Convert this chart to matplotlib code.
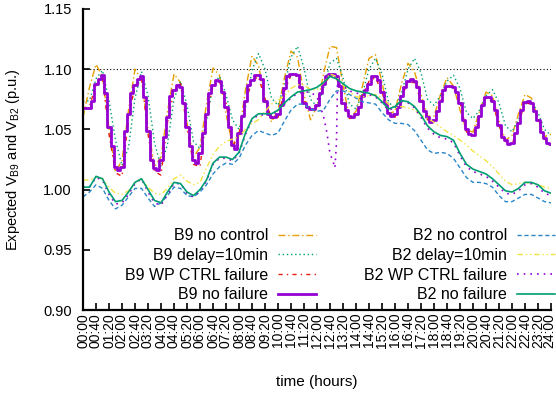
import numpy as np
import matplotlib
matplotlib.use('Agg')
import matplotlib.pyplot as plt
import matplotlib.transforms as mtransforms

# time axis: one sample every 20 minutes, in hours
hours = [k / 3.0 for k in range(73)]
# the B9 "no failure" staircase is read every 10 minutes
hours_10min = [k / 6.0 for k in range(145)]

b9_no_control = [
    1.060, 1.085, 1.104, 1.094, 1.051, 1.015, 1.024, 1.066, 1.100, 1.091,
    1.051, 1.019, 1.027, 1.065, 1.096, 1.089, 1.055, 1.027, 1.035, 1.071,
    1.101, 1.095, 1.063, 1.037, 1.046, 1.083, 1.111, 1.103, 1.076, 1.056,
    1.066, 1.093, 1.115, 1.110, 1.079, 1.058, 1.069, 1.096, 1.119, 1.118,
    1.087, 1.059, 1.065, 1.086, 1.109, 1.112, 1.089, 1.063, 1.065, 1.088,
    1.105, 1.098, 1.079, 1.061, 1.061, 1.079, 1.093, 1.086, 1.066, 1.049,
    1.048, 1.065, 1.081, 1.078, 1.057, 1.041, 1.045, 1.063, 1.079, 1.076,
    1.059, 1.044, 1.046]

b9_delay = [
    1.073, 1.074, 1.092, 1.099, 1.074, 1.041, 1.020, 1.035, 1.076, 1.098,
    1.078, 1.039, 1.019, 1.038, 1.075, 1.090, 1.070, 1.040, 1.034, 1.057,
    1.087, 1.094, 1.079, 1.058, 1.050, 1.068, 1.099, 1.113, 1.100, 1.076,
    1.070, 1.087, 1.110, 1.119, 1.101, 1.075, 1.069, 1.084, 1.105, 1.109,
    1.093, 1.071, 1.067, 1.080, 1.100, 1.109, 1.096, 1.073, 1.067, 1.080,
    1.100, 1.109, 1.097, 1.075, 1.070, 1.078, 1.090, 1.095, 1.084, 1.064,
    1.059, 1.066, 1.078, 1.083, 1.072, 1.053, 1.048, 1.058, 1.071, 1.073,
    1.064, 1.050, 1.045]

b9_wp_failure = [
    1.067, 1.069, 1.087, 1.094, 1.046, 1.014, 1.011, 1.060, 1.086, 1.094,
    1.046, 1.015, 1.012, 1.056, 1.082, 1.088, 1.051, 1.021, 1.019, 1.061,
    1.086, 1.090, 1.073, 1.035, 1.046, 1.073, 1.090, 1.094, 1.075, 1.059,
    1.060, 1.082, 1.095, 1.094, 1.074, 1.066, 1.067, 1.086, 1.095, 1.093,
    1.074, 1.059, 1.061, 1.078, 1.090, 1.093, 1.081, 1.064, 1.060, 1.077,
    1.089, 1.089, 1.074, 1.058, 1.056, 1.073, 1.086, 1.085, 1.073, 1.048,
    1.044, 1.060, 1.076, 1.073, 1.053, 1.040, 1.037, 1.055, 1.072, 1.071,
    1.059, 1.042, 1.037]

b9_no_failure = [
    1.068, 1.068, 1.068, 1.074, 1.088, 1.092, 1.095, 1.080, 1.052, 1.036,
    1.019, 1.016, 1.019, 1.049, 1.063, 1.080, 1.087, 1.092, 1.094, 1.077,
    1.049, 1.025, 1.018, 1.016, 1.025, 1.044, 1.060, 1.078, 1.083, 1.087,
    1.085, 1.072, 1.052, 1.036, 1.025, 1.022, 1.030, 1.047, 1.063, 1.080,
    1.087, 1.091, 1.090, 1.081, 1.069, 1.052, 1.037, 1.034, 1.047,
    1.061, 1.074, 1.087, 1.091, 1.095, 1.095, 1.092, 1.074, 1.063, 1.060,
    1.060, 1.063, 1.070, 1.084, 1.094, 1.096, 1.096, 1.095, 1.085, 1.072,
    1.069, 1.067, 1.067, 1.070, 1.080, 1.088, 1.094, 1.096, 1.096, 1.094,
    1.086, 1.072, 1.066, 1.061, 1.060, 1.063, 1.069, 1.078, 1.083, 1.088,
    1.094, 1.094, 1.091, 1.081, 1.072, 1.064, 1.061, 1.063,
    1.069, 1.078, 1.085, 1.090, 1.092, 1.090, 1.085, 1.074, 1.065, 1.060,
    1.056, 1.058, 1.065, 1.074, 1.083, 1.086, 1.086, 1.085, 1.081, 1.072,
    1.058, 1.050, 1.046, 1.045, 1.052, 1.061, 1.070, 1.077, 1.077, 1.074,
    1.066, 1.054, 1.044, 1.041, 1.038, 1.039, 1.047, 1.055, 1.066, 1.073,
    1.074, 1.072, 1.065, 1.058, 1.048, 1.043, 1.039, 1.038]

b2_no_control = [
    0.994, 0.998, 1.004, 1.001, 0.991, 0.984, 0.987, 0.994, 1.001, 1.001,
    0.993, 0.986, 0.989, 0.995, 1.002, 1.001, 0.995, 0.994, 0.998, 1.004,
    1.013, 1.019, 1.022, 1.021, 1.026, 1.037, 1.045, 1.049, 1.047, 1.045,
    1.047, 1.057, 1.066, 1.071, 1.071, 1.067, 1.065, 1.066, 1.075, 1.082,
    1.082, 1.079, 1.076, 1.073, 1.072, 1.071, 1.064, 1.058, 1.055, 1.055,
    1.054, 1.049, 1.041, 1.033, 1.030, 1.031, 1.030, 1.026, 1.018, 1.010,
    1.006, 1.006, 1.005, 1.002, 0.995, 0.990, 0.990, 0.993, 0.996, 0.996,
    0.993, 0.990, 0.989]

b2_delay = [
    1.008, 1.008, 1.010, 1.009, 1.002, 0.997, 0.996, 0.999, 1.006, 1.009,
    1.002, 0.997, 0.996, 1.001, 1.009, 1.012, 1.007, 1.004, 1.006, 1.018,
    1.029, 1.036, 1.040, 1.042, 1.044, 1.050, 1.055, 1.058, 1.065, 1.071,
    1.074, 1.078, 1.084, 1.087, 1.087, 1.083, 1.083, 1.089, 1.096, 1.094,
    1.087, 1.081, 1.077, 1.077, 1.078, 1.079, 1.076, 1.071, 1.068, 1.069,
    1.068, 1.066, 1.062, 1.059, 1.056, 1.052, 1.048, 1.045, 1.041, 1.037,
    1.032, 1.028, 1.024, 1.019, 1.013, 1.007, 1.004, 1.005, 1.006, 1.005,
    1.004, 1.002, 1.001]

b2_wp_failure = [
    1.002, 1.002, 1.010, 1.008, 0.996, 0.988, 0.989, 0.996, 1.005, 1.009,
    0.998, 0.989, 0.987, 0.996, 1.005, 1.005, 0.997, 0.994, 0.999, 1.007,
    1.021, 1.026, 1.026, 1.024, 1.030, 1.046, 1.058, 1.062, 1.062, 1.062,
    1.065, 1.071, 1.076, 1.080, 1.081, 1.081, 1.077, 1.061, 1.030, 1.040,
    1.086, 1.082, 1.080, 1.080, 1.079, 1.077, 1.072, 1.066, 1.068, 1.073,
    1.072, 1.068, 1.060, 1.051, 1.046, 1.043, 1.042, 1.039, 1.028, 1.019,
    1.015, 1.013, 1.011, 1.007, 1.002, 0.997, 0.996, 0.999, 1.004, 1.005,
    1.002, 0.997, 0.995]
# extra samples inside the sharp dip around 12:30-13:00
b2_wp_dip_hours = [12.5, 12.83, 12.92, 13.05]
b2_wp_dip_values = [1.048, 1.023, 1.018, 1.089]

b2_no_failure = [
    1.002, 1.002, 1.011, 1.009, 0.998, 0.990, 0.991, 0.998, 1.006, 1.009,
    1.000, 0.991, 0.989, 0.998, 1.006, 1.005, 0.998, 0.995, 1.000, 1.008,
    1.022, 1.027, 1.027, 1.025, 1.031, 1.047, 1.059, 1.063, 1.063, 1.063,
    1.066, 1.072, 1.077, 1.081, 1.082, 1.083, 1.085, 1.089, 1.094, 1.092,
    1.088, 1.084, 1.082, 1.081, 1.080, 1.078, 1.073, 1.067, 1.069, 1.074,
    1.073, 1.069, 1.062, 1.053, 1.048, 1.045, 1.044, 1.041, 1.030, 1.021,
    1.017, 1.015, 1.013, 1.009, 1.004, 0.999, 0.998, 1.001, 1.006, 1.006,
    1.004, 0.999, 0.997]

tick_hours = [k * 40 / 60.0 for k in range(37)]
tick_labels = ['%02d:%02d' % divmod(k * 40, 60) for k in range(37)]

plt.rcParams['font.family'] = ['Liberation Sans', 'DejaVu Sans']
plt.rcParams['mathtext.fontset'] = 'custom'
plt.rcParams['mathtext.rm'] = 'Liberation Sans'
plt.rcParams['mathtext.it'] = 'Liberation Sans'

fig = plt.figure(figsize=(5.56, 3.97), dpi=100)
ax = fig.add_axes([83 / 556, 1 - 310 / 397, 468 / 556, 301 / 397])

ax.axhline(1.10, color='black', lw=0.8, ls=(0, (1, 2)))

ax.plot(hours, b9_no_control, color='#E69F00', lw=1.0, ls=(0, (5, 2, 1, 2)),
        label='B9 no control')
ax.plot(hours, b9_delay, color='#009E73', lw=1.0, ls=(0, (1, 2)),
        label='B9 delay=10min')
ax.plot(hours, b9_wp_failure, color='#E51E10', lw=1.0, ls=(0, (3, 3, 1, 3)),
        label='B9 WP CTRL failure')
ax.plot(hours_10min, b9_no_failure, color='#9400D3', lw=2.0,
        drawstyle='steps-mid', label='B9 no failure')
ax.plot(hours, b2_no_control, color='#2a86c8', lw=1.0, ls=(0, (3, 2)),
        label='B2 no control')
ax.plot(hours, b2_delay, color='#F0E442', lw=1.0, ls=(0, (4, 2, 1, 2, 1, 2)),
        label='B2 delay=10min')

wp = sorted(list(zip(hours, b2_wp_failure)) +
            list(zip(b2_wp_dip_hours, b2_wp_dip_values)))
ax.plot([p[0] for p in wp], [p[1] for p in wp], color='#9400D3', lw=1.2,
        ls=(0, (1, 3)), label='B2 WP CTRL failure')
ax.plot(hours, b2_no_failure, color='#009E73', lw=1.2, label='B2 no failure')

ax.set_xlim(0, 24)
ax.set_ylim(0.90, 1.15)
yt = np.arange(0.90, 1.151, 0.05)
ax.set_yticks(yt)
ax.set_yticklabels(['%.2f' % v for v in yt])
ax.set_xticks(tick_hours)
ax.set_xticklabels(tick_labels, rotation=90)
ax.tick_params(axis='y', direction='in', length=5, width=1.2,
               labelsize=10.5, pad=8)
ax.tick_params(axis='x', direction='in', length=5, width=1.2,
               labelsize=10, pad=2)
# keep the last label inside the picture
last = ax.get_xticklabels()[-1]
last.set_transform(last.get_transform() +
                   mtransforms.ScaledTranslation(-1.5 / 100, 0,
                                                 fig.dpi_scale_trans))
for side in ('top', 'right'):
    ax.spines[side].set_visible(False)
for side in ('left', 'bottom'):
    ax.spines[side].set_linewidth(1.6)

ax.set_xlabel('time (hours)', fontsize=11)
ax.xaxis.set_label_coords(0.5, -0.216)
ax.set_ylabel('Expected V$_{\\mathrm{B9}}$ and V$_{\\mathrm{B2}}$ (p.u.)',
              fontsize=10.5)
ax.yaxis.set_label_coords(-0.13, 0.5)

ax.legend(ncol=2, markerfirst=False, frameon=False, fontsize=11.5,
          loc='lower right', bbox_to_anchor=(1.009, 0.025), borderpad=0,
          borderaxespad=0, handlelength=2.4, handletextpad=0.6,
          labelspacing=0.3, columnspacing=3.0)

fig.savefig('out.png', dpi=100)
